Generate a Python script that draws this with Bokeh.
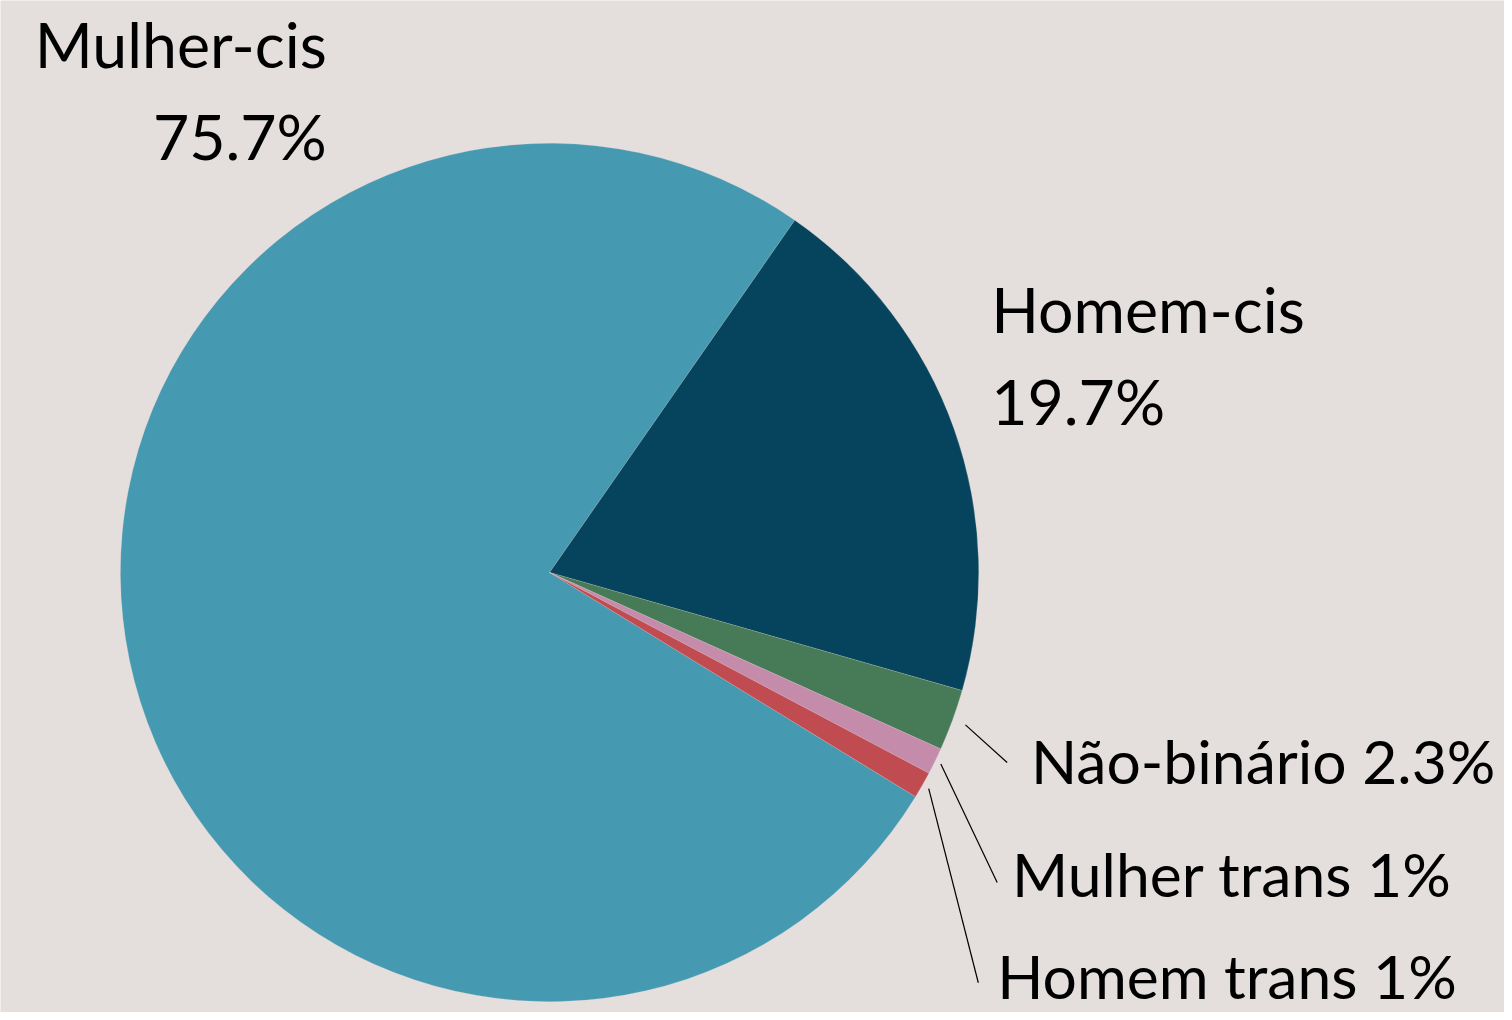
import math
from bokeh.plotting import figure
from bokeh.models import ColumnDataSource, Range1d
from bokeh.core.properties import value
from bokeh.embed import file_html
from bokeh.resources import INLINE

# ---- data ----
categories = ["Mulher-cis", "Homem-cis", "Não-binário", "Mulher trans", "Homem trans"]
percents = [75.7, 19.7, 2.3, 1.0, 1.0]
pct_labels = ["75.7%", "19.7%", "2.3%", "1%", "1%"]
colors = ["#4599b0", "#05445c", "#477a57", "#c48bab", "#c04b50"]

# ---- layout (reference 1512x1020 pixel coordinates, scaled to the figure) ----
REF_W, REF_H = 1512, 1020
W, H = 1504, 1012
SX, SY = W / REF_W, H / REF_H
S = (SX + SY) / 2
CX, CY, R = 552, 576.5, 432
START_DEG = -31.5  # math angle where first slice begins, drawn clockwise
FONT = "Lato"
FS_BIG = f"{63 * S:.1f}px"
FS_SMALL = f"{61 * S:.1f}px"
CAP_HALF = 21.5   # text anchor sits at cap-centre
BG = "#e4dedd"


def dx(px):
    return px * SX


def dy(py):
    return H - py * SY


total = sum(percents)
starts, ends, mids = [], [], []
acc = 0.0
for v in percents:
    a0 = math.radians(START_DEG) - acc / total * 2 * math.pi
    acc += v
    a1 = math.radians(START_DEG) - acc / total * 2 * math.pi
    starts.append(a0)
    ends.append(a1)
    mids.append((a0 + a1) / 2)

src = ColumnDataSource(dict(cat=categories, start=starts, end=ends, color=colors))

p = figure(width=W, height=H, output_backend="svg", toolbar_location=None,
           x_range=Range1d(0, W), y_range=Range1d(0, H), min_border=0,
           background_fill_color=BG, border_fill_color=BG, outline_line_color=None)
p.axis.visible = False
p.grid.visible = False

p.wedge(x=dx(CX), y=dy(CY), radius=R * S, start_angle="start", end_angle="end",
        direction="clock", fill_color="color", line_color=BG, line_width=0.4,
        line_alpha=0.5, source=src)


def label(x, baseline, txt, align, fs):
    p.text(x=[dx(x)], y=[dy(baseline - CAP_HALF)], text=[txt], text_align=align,
           text_baseline="alphabetic", text_font=value(FONT), text_font_size=fs,
           text_color="black")


# big labels (two lines)
label(328, 65, categories[0], "right", FS_BIG)
label(328, 158, pct_labels[0], "right", FS_BIG)
label(996, 332, categories[1], "left", FS_BIG)
label(996, 425, pct_labels[1], "left", FS_BIG)

# small slices: one-line labels with leader lines
small_label_pos = [(1036, 788), (1017, 901), (1002, 1004)]
leader_end = [(1012, 768), (1002, 889), (983, 990)]
leader_r = [1.032, 1.015, 1.017]
for k, i in enumerate(range(2, 5)):
    lx, ly = small_label_pos[k]
    label(lx, ly, f"{categories[i]} {pct_labels[i]}", "left", FS_SMALL)
    sx = dx(CX) + R * S * leader_r[k] * math.cos(mids[i])
    sy = dy(CY) + R * S * leader_r[k] * math.sin(mids[i])
    ex, ey = leader_end[k]
    p.line(x=[sx, dx(ex)], y=[sy, dy(ey)], line_color="black", line_width=1.2)

open("out.html", "w").write(file_html(p, INLINE))
